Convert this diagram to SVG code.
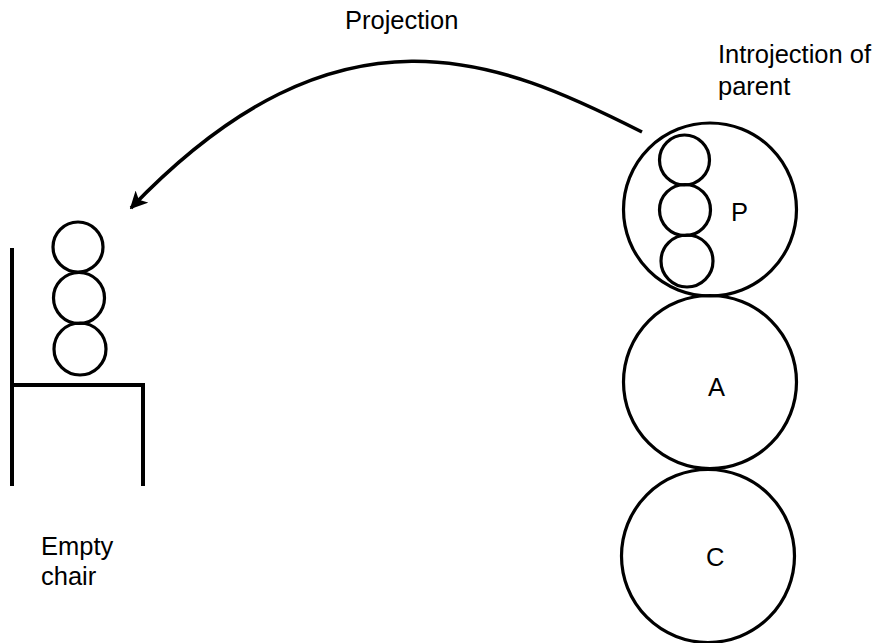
<svg xmlns="http://www.w3.org/2000/svg" width="885" height="643" viewBox="0 0 885 643">
<defs>
<style>
.lbl{font-family:"Liberation Sans",Arial,sans-serif;font-size:25.5px;fill:#000}
.c{fill:none;stroke:#000;stroke-width:3.2}
.chair{fill:none;stroke:#000;stroke-width:4;stroke-linecap:butt}
.arc{fill:none;stroke:#000;stroke-width:3.5}
</style>
<marker id="ah" viewBox="0 0 10 10" refX="9" refY="5" markerWidth="5" markerHeight="5" markerUnits="strokeWidth" orient="auto">
<path d="M0,0 L10,5 L0,10 L2.5,5 z" fill="#000"/>
</marker>
</defs>
<rect width="885" height="643" fill="#fff"/>
<g id="connectors">
<path class="arc" d="M642,132 C500,60 340,-10 131,208" marker-end="url(#ah)"/>
</g>
<g id="chair">
<path class="chair" d="M12,248 V486 M12,385 H143 V486"/>
<circle class="c" cx="78" cy="247" r="25"/>
<circle class="c" cx="79" cy="298" r="25.5"/>
<circle class="c" cx="80" cy="349" r="26"/>
</g>
<g id="node-P">
<circle class="c" cx="710" cy="209.5" r="86.5"/>
<circle class="c" cx="684.5" cy="160" r="25"/>
<circle class="c" cx="685" cy="210" r="25.5"/>
<circle class="c" cx="687" cy="261" r="26"/>
<text class="lbl" x="731" y="221">P</text>
</g>
<g id="node-A">
<circle class="c" cx="710" cy="382" r="86.5"/>
<text class="lbl" x="708" y="396">A</text>
</g>
<g id="node-C">
<circle class="c" cx="708" cy="556" r="86.5"/>
<text class="lbl" x="706" y="566">C</text>
</g>
<g id="labels">
<text class="lbl" x="345" y="29">Projection</text>
<text class="lbl" x="718" y="63">Introjection of</text>
<text class="lbl" x="718" y="95">parent</text>
<text class="lbl" x="41" y="555">Empty</text>
<text class="lbl" x="41" y="585">chair</text>
</g>
</svg>
